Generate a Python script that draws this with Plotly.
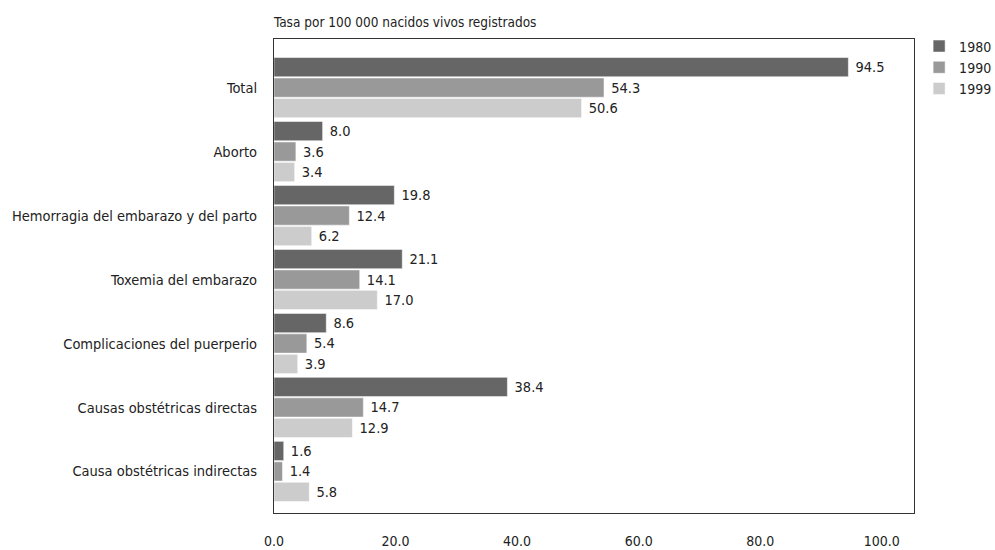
import plotly.graph_objects as go

categories = ["Total", "Aborto", "Hemorragia del embarazo y del parto",
              "Toxemia del embarazo", "Complicaciones del puerperio",
              "Causas obstétricas directas", "Causa obstétricas indirectas"]
series_names = ["1980", "1990", "1999"]
v1980 = [94.5, 8.0, 19.8, 21.1, 8.6, 38.4, 1.6]
v1990 = [54.3, 3.6, 12.4, 14.1, 5.4, 14.7, 1.4]
v1999 = [50.6, 3.4, 6.2, 17.0, 3.9, 12.9, 5.8]
x_ticks = [0, 20, 40, 60, 80, 100]
x_ticklabels = ["0.0", "20.0", "40.0", "60.0", "80.0", "100.0"]
colors = ["#666666", "#999999", "#cccccc"]

FONT = "DejaVu Sans Condensed, Liberation Sans Narrow, Arial Narrow, sans-serif"
FS = 14.5

fig = go.Figure()
for name, vals, col in zip(series_names, [v1980, v1990, v1999], colors):
    fig.add_trace(go.Bar(
        y=categories, x=vals, name=name, orientation="h",
        marker=dict(color=col, line=dict(color="white", width=0.5)),
        text=[f"{v:.1f}" for v in vals],
        texttemplate=" %{text}",
        textposition="outside", constraintext="none", cliponaxis=False,
        textfont=dict(family=FONT, size=FS, color="#222222"),
        hoverinfo="skip",
    ))

fig.update_layout(
    width=995, height=550,
    margin=dict(l=274, r=81, t=39, b=37, autoexpand=False),
    paper_bgcolor="white", plot_bgcolor="white",
    barmode="group", bargap=0.04, bargroupgap=0.06,
    font=dict(family=FONT, size=FS, color="#222222"),
    showlegend=True,
    legend=dict(x=1.008, y=1.018, xanchor="left", yanchor="top",
                font=dict(family=FONT, size=14, color="#222222"),
                tracegroupgap=0, itemwidth=30, traceorder="normal"),
    xaxis=dict(range=[0, 105.3], tickvals=x_ticks, ticktext=x_ticklabels,
               showgrid=False, zeroline=False, showline=True, mirror=True,
               linecolor="#333333", linewidth=1, ticks="", automargin=False,
               ticklabelstandoff=15,
               tickfont=dict(family=FONT, size=14, color="#222222")),
    yaxis=dict(categoryorder="array", categoryarray=categories,
               autorange=False, range=[6.65, -0.76], automargin=False,
               showgrid=False, zeroline=False, showline=True, mirror=True,
               linecolor="#333333", linewidth=1, ticks="",
               ticklabelstandoff=13,
               tickfont=dict(family=FONT, size=FS, color="#222222")),
    annotations=[dict(text="Tasa por 100 000 nacidos vivos registrados",
                      xref="paper", yref="paper", x=0, y=1, xanchor="left",
                      yanchor="bottom", yshift=7, xshift=-3, showarrow=False,
                      font=dict(family=FONT, size=13.5, color="#222222"))],
)

fig.write_html("out.html", config={"displayModeBar": False},
               post_script="document.body.style.margin='0px';document.body.style.overflow='hidden';")
